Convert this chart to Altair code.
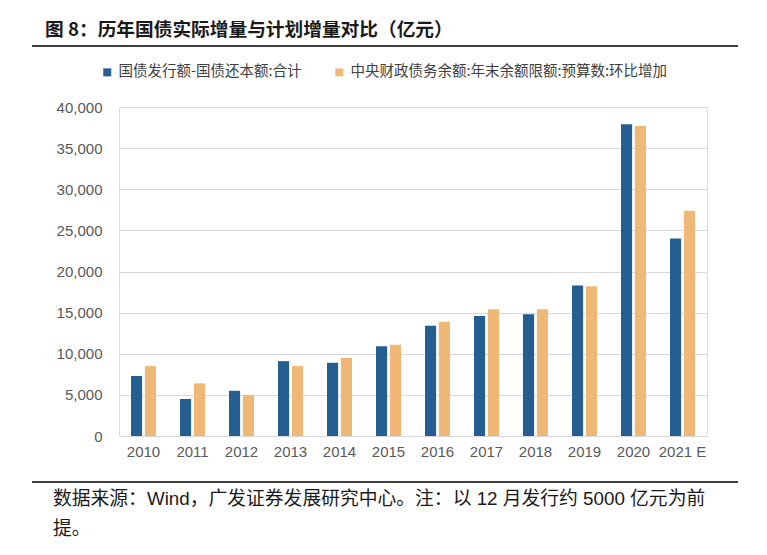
import altair as alt
import pandas as pd

years = ["2010", "2011", "2012", "2013", "2014", "2015", "2016", "2017", "2018", "2019", "2020", "2021 E"]
actual = [7300, 4500, 5500, 9100, 8900, 10900, 13400, 14600, 14800, 18300, 37900, 24000]
planned = [8500, 6400, 5000, 8500, 9500, 11100, 13900, 15400, 15400, 18200, 37700, 27400]
series_names = ["国债发行额-国债还本额:合计", "中央财政债务余额:年末余额限额:预算数:环比增加"]
series_colors = ["#255e91", "#f0b877"]
y_ticks = [0, 5000, 10000, 15000, 20000, 25000, 30000, 35000, 40000]

title_text = "图 8：历年国债实际增量与计划增量对比（亿元）"
footer_line1 = "数据来源：Wind，广发证券发展研究中心。注：以 12 月发行约 5000 亿元为前"
footer_line2 = "提。"

rows = []
for i, yr in enumerate(years):
    rows.append({"year": yr, "series": series_names[0], "value": actual[i]})
    rows.append({"year": yr, "series": series_names[1], "value": planned[i]})
df = pd.DataFrame(rows)

FONT_LATIN = "Liberation Sans, Arial, Noto Sans CJK SC"
FONT_CJK = "Noto Sans CJK SC, Liberation Sans"

bars = alt.Chart(df).mark_bar().encode(
    x=alt.X("year:N", sort=years, title=None,
            scale=alt.Scale(paddingInner=0.49, paddingOuter=0.245),
            axis=alt.Axis(labelAngle=0, ticks=False, domain=False, labelPadding=8,
                          labelFont=FONT_LATIN, labelFontSize=15, labelColor="#595959")),
    xOffset=alt.XOffset("series:N", sort=series_names,
                        scale=alt.Scale(paddingInner=0.2, paddingOuter=0)),
    y=alt.Y("value:Q", title=None,
            scale=alt.Scale(domain=[0, 40000], nice=False),
            axis=alt.Axis(values=y_ticks, format=",.0f", ticks=False, domain=False,
                          labelPadding=17, labelFont=FONT_LATIN, labelFontSize=15,
                          labelColor="#595959", gridColor="#d9d9d9", gridWidth=1)),
    color=alt.Color("series:N", sort=series_names,
                    scale=alt.Scale(domain=series_names, range=series_colors),
                    legend=alt.Legend(title=None, orient="none", direction="horizontal",
                                      legendX=-19, legendY=-42, symbolType="square",
                                      symbolSize=64, symbolStrokeWidth=0,
                                      labelFont=FONT_CJK, labelFontSize=14.5,
                                      labelColor="#404040", labelLimit=500,
                                      labelOffset=4, columnPadding=30, padding=0)),
)

one = pd.DataFrame({"t": [title_text]})
title = alt.Chart(one).mark_text(
    align="left", baseline="middle", font=FONT_CJK, fontSize=18.7, fontWeight="bold", color="#1a1a1a"
).encode(text="t:N", x=alt.value(-74), y=alt.value(-77))

top_rule = alt.Chart(one).mark_rule(color="#000000", strokeWidth=1.5).encode(
    x=alt.value(-87), x2=alt.value(619), y=alt.value(-61))

bottom_rule = alt.Chart(one).mark_rule(color="#000000", strokeWidth=1.5).encode(
    x=alt.value(-87), x2=alt.value(619), y=alt.value(375))

f1 = alt.Chart(pd.DataFrame({"t": [footer_line1]})).mark_text(
    align="left", baseline="middle", font=FONT_LATIN, fontSize=18.8, color="#1a1a1a"
).encode(text="t:N", x=alt.value(-66), y=alt.value(392))

f2 = alt.Chart(pd.DataFrame({"t": [footer_line2]})).mark_text(
    align="left", baseline="middle", font=FONT_LATIN, fontSize=18.8, color="#1a1a1a"
).encode(text="t:N", x=alt.value(-66), y=alt.value(422))

chart = alt.layer(bars, title, top_rule, bottom_rule, f1, f2).properties(
    width=588, height=329,
    autosize=alt.AutoSizeParams(type="none"),
    padding={"left": 111, "top": 99, "right": 52, "bottom": 111},
).configure_view(stroke=None).configure(background="white")

chart.save("out.html", embed_options={"renderer": "svg", "actions": False})
